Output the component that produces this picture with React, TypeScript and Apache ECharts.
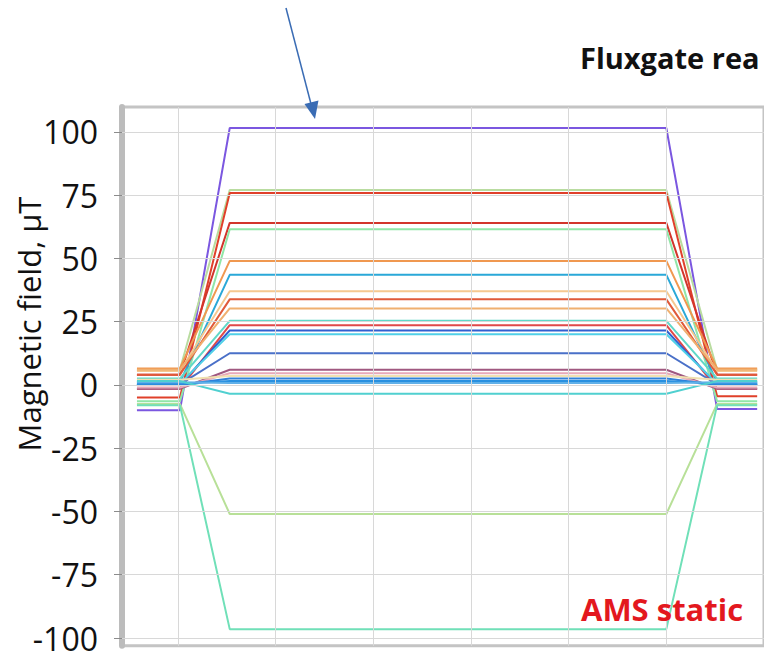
import React, { useEffect, useRef } from "react";
import * as echarts from "echarts";

// time keys (in grid-interval units): start, ramp-up start, plateau start, plateau end, ramp-down end, end
const TIMES = [-0.42, 0.02, 0.53, 5.0, 5.52, 5.93];

const CHANNELS = [
  "Ch 1", "Ch 2", "Ch 3", "Ch 4", "Ch 5", "Ch 6", "Ch 7", "Ch 8",
  "Ch 9", "Ch 10", "Ch 11", "Ch 12", "Ch 13", "Ch 14", "Ch 15", "Ch 16",
  "Ch 17", "Ch 18", "Ch 19", "Ch 20", "Ch 21", "Ch 22", "Ch 23", "Ch 24",
];
const PRE = [-10, 6, -5, 4, -6.5, 6.5, 1, 5.5, 4, 6, 2.5, -1.5, 0, 0.5, 0.2, -1.5, -1, 2, 0, 0.5, 1, 1.5, -7.5, -8];
const PLATEAU = [101.5, 77, 75.8, 64, 61.5, 49, 43.5, 37, 33.8, 30.2, 25.3, 23.6, 21.5, 20, 12.5, 6, 4.6, 3.5, 2.5, 1.5, 0.8, -3.5, -51, -96.5];
const POST = [-9.5, 6, -4.5, 4, -6.5, 6.5, 1, 5.5, 4, 6, 2.5, -1.5, 0, 0.5, 0.2, -1.5, -1, 2, 0, 0.5, 1, 1.5, -7.5, -8];
const COLORS = [
  "#7b57e0", "#b9dca0", "#e0402a", "#d2352c", "#90e6a8", "#f09850", "#2aa8d8", "#f5c890",
  "#e05a3a", "#f0b070", "#60d8c8", "#e04848", "#3060d0", "#50d0e8", "#4a70c8", "#a05880",
  "#e8a8b8", "#f0e0b0", "#3080d8", "#2890e0", "#60b0e8", "#50d0d0", "#b8e098", "#70e0b8",
];

const Y_TICKS = [-100, -75, -50, -25, 0, 25, 50, 75, 100];
const X_GRID = [0, 1, 2, 3, 4, 5, 6];

export default function App() {
  const ref = useRef<HTMLDivElement>(null);

  useEffect(() => {
    if (!ref.current) return;
    const chart = echarts.init(ref.current, undefined, { renderer: "svg" });

    const lineSeries = CHANNELS.map((name, i) => ({
      name,
      type: "line",
      symbol: "none",
      showSymbol: false,
      lineStyle: { width: 2, color: COLORS[i] },
      itemStyle: { color: COLORS[i] },
      z: 3,
      data: [
        [TIMES[0], PRE[i]],
        [TIMES[1], PRE[i]],
        [TIMES[2], PLATEAU[i]],
        [TIMES[3], PLATEAU[i]],
        [TIMES[4], POST[i]],
        [TIMES[5], POST[i]],
      ],
    }));

    const gridSeries = {
      name: "grid",
      type: "line",
      data: [],
      z: 1,
      markLine: {
        silent: true,
        symbol: ["none", "none"],
        label: { show: false },
        lineStyle: { color: "#d8d8d8", width: 1, type: "solid" },
        data: [
          ...X_GRID.map((x) => ({ xAxis: x })),
          ...Y_TICKS.map((y) => ({ yAxis: y })),
        ],
      },
    };

    const option: any = {
      animation: false,
      backgroundColor: "#ffffff",
      grid: {
        left: 122,
        top: 107,
        right: 0,
        bottom: 6,
        show: true,
        borderColor: "#c4c4c4",
        borderWidth: 3,
        backgroundColor: "#ffffff",
      },
      xAxis: {
        type: "value",
        min: -0.573,
        max: 6.0,
        axisLine: { show: false, onZero: false },
        axisTick: { show: false },
        axisLabel: { show: false },
        splitLine: { show: false },
      },
      yAxis: {
        type: "value",
        min: -103.1,
        max: 109.8,
        axisLine: { show: true, onZero: false, lineStyle: { color: "#bcbcbc", width: 6 } },
        axisTick: {
          show: true,
          length: 8,
          customValues: Y_TICKS,
          lineStyle: { color: "#8c8c8c", width: 1 },
        },
        axisLabel: {
          customValues: Y_TICKS,
          fontSize: 32,
          lineHeight: 20,
          fontFamily: "Open Sans",
          color: "#111111",
          margin: 24,
        },
        splitLine: { show: false },
      },
      series: [gridSeries, ...lineSeries],
      graphic: [
        {
          type: "line",
          shape: { x1: 286, y1: 8, x2: 311, y2: 104 },
          style: { stroke: "#3a6cb4", lineWidth: 1.5 },
          z: 10,
        },
        {
          type: "polygon",
          shape: { points: [[304.5, 104], [318.5, 100.5], [315, 119]] },
          style: { fill: "#3a6cb4" },
          z: 10,
        },
        {
          type: "text",
          x: 580,
          y: 57,
          style: {
            text: "Fluxgate rea",
            fill: "#111111",
            font: 'bold 29px "Open Sans"',
            align: "left",
            verticalAlign: "middle",
          },
          z: 10,
        },
        {
          type: "text",
          x: 581,
          y: 609,
          style: {
            text: "AMS static",
            fill: "#e3181e",
            font: 'bold 31px "Open Sans"',
            align: "left",
            verticalAlign: "middle",
          },
          z: 10,
        },
        {
          type: "text",
          x: 29,
          y: 324,
          rotation: Math.PI / 2,
          style: {
            text: "Magnetic field, µT",
            fill: "#111111",
            font: '31px "Open Sans"',
            align: "center",
            verticalAlign: "middle",
          },
          z: 10,
        },
      ],
    };

    chart.setOption(option);
    return () => chart.dispose();
  }, []);

  return (
    <div
      ref={ref}
      style={{ position: "absolute", left: 0, top: 0, width: 764, height: 654 }}
    />
  );
}
